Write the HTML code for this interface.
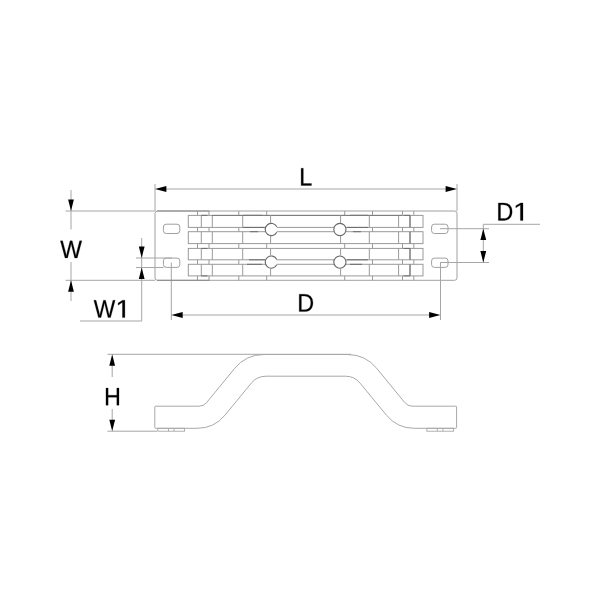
<!DOCTYPE html>
<html><head><meta charset="utf-8"><style>
html,body{margin:0;padding:0;background:#fff;width:600px;height:600px;overflow:hidden}
svg{position:absolute;left:0;top:0}
text{font-family:"Liberation Sans",sans-serif;fill:#000}
</style></head><body>
<svg width="600" height="600" viewBox="0 0 600 600">
<rect width="600" height="600" fill="#fff"/>
<line x1="155" y1="184" x2="155" y2="211" stroke="#a6a6a6" stroke-width="1.0"/>
<line x1="457" y1="184" x2="457" y2="211" stroke="#a6a6a6" stroke-width="1.0"/>
<line x1="160" y1="189" x2="452" y2="189" stroke="#a6a6a6" stroke-width="1.0"/>
<polygon points="155,189 166.4,186.1 166.4,191.9" fill="#000"/>
<polygon points="457,189 445.6,186.1 445.6,191.9" fill="#000"/>
<rect x="155" y="211" width="302" height="69.3" rx="2.5" fill="none" stroke="#a0a0a0" stroke-width="1.0"/>
<rect x="163.4" y="224.2" width="16.4" height="9.3" rx="2.8" fill="none" stroke="#a0a0a0" stroke-width="1.0"/>
<rect x="163.4" y="258.1" width="16.4" height="9.3" rx="2.8" fill="none" stroke="#a0a0a0" stroke-width="1.0"/>
<rect x="431.6" y="224.2" width="16.4" height="9.3" rx="2.8" fill="none" stroke="#a0a0a0" stroke-width="1.0"/>
<rect x="431.6" y="258.1" width="16.4" height="9.3" rx="2.8" fill="none" stroke="#a0a0a0" stroke-width="1.0"/>
<line x1="65.5" y1="211" x2="155" y2="211" stroke="#a6a6a6" stroke-width="1.0"/>
<line x1="65.5" y1="280.3" x2="155" y2="280.3" stroke="#a6a6a6" stroke-width="1.0"/>
<line x1="71" y1="190" x2="71" y2="229.5" stroke="#a6a6a6" stroke-width="1.0"/>
<line x1="71" y1="262" x2="71" y2="301" stroke="#a6a6a6" stroke-width="1.0"/>
<polygon points="71,211 68.1,199.6 73.9,199.6" fill="#000"/>
<polygon points="71,280.3 68.1,291.7 73.9,291.7" fill="#000"/>
<line x1="136" y1="258" x2="172" y2="258" stroke="#a6a6a6" stroke-width="1.0"/>
<line x1="136" y1="267.5" x2="163.5" y2="267.5" stroke="#a6a6a6" stroke-width="1.0"/>
<line x1="141.7" y1="238" x2="141.7" y2="321" stroke="#a6a6a6" stroke-width="1.0"/>
<line x1="80" y1="321" x2="141.7" y2="321" stroke="#a6a6a6" stroke-width="1.0"/>
<polygon points="141.7,258 138.79999999999998,246.6 144.6,246.6" fill="#000"/>
<polygon points="141.7,267.5 138.79999999999998,278.9 144.6,278.9" fill="#000"/>
<line x1="171.3" y1="262.5" x2="171.3" y2="320" stroke="#a6a6a6" stroke-width="1.0"/>
<line x1="440.5" y1="262.5" x2="440.5" y2="320" stroke="#a6a6a6" stroke-width="1.0"/>
<line x1="176" y1="315" x2="436" y2="315" stroke="#a6a6a6" stroke-width="1.0"/>
<polygon points="171.3,315 182.70000000000002,312.1 182.70000000000002,317.9" fill="#000"/>
<polygon points="440.5,315 429.1,312.1 429.1,317.9" fill="#000"/>
<line x1="440" y1="228.7" x2="489" y2="228.7" stroke="#a6a6a6" stroke-width="1.0"/>
<line x1="440" y1="262.5" x2="489" y2="262.5" stroke="#a6a6a6" stroke-width="1.0"/>
<line x1="483.3" y1="224.3" x2="483.3" y2="262.5" stroke="#a6a6a6" stroke-width="1.0"/>
<line x1="483.3" y1="224.3" x2="540" y2="224.3" stroke="#a6a6a6" stroke-width="1.0"/>
<polygon points="483.3,228.7 480.40000000000003,240.1 486.2,240.1" fill="#000"/>
<polygon points="483.3,262.5 480.40000000000003,251.1 486.2,251.1" fill="#000"/>
<rect x="188.3" y="215.4" width="234.7" height="12.0" rx="0" fill="none" stroke="#9a9a9a" stroke-width="1.0"/>
<rect x="188.3" y="231.7" width="234.7" height="11.900000000000006" rx="0" fill="none" stroke="#9a9a9a" stroke-width="1.0"/>
<rect x="188.3" y="248.4" width="234.7" height="11.400000000000006" rx="0" fill="none" stroke="#9a9a9a" stroke-width="1.0"/>
<rect x="188.3" y="264.3" width="234.7" height="11.599999999999966" rx="0" fill="none" stroke="#9a9a9a" stroke-width="1.0"/>
<line x1="201.3" y1="215.4" x2="201.3" y2="227.4" stroke="#9a9a9a" stroke-width="1.0"/>
<line x1="201.3" y1="231.7" x2="201.3" y2="243.6" stroke="#9a9a9a" stroke-width="1.0"/>
<line x1="201.3" y1="248.4" x2="201.3" y2="259.8" stroke="#9a9a9a" stroke-width="1.0"/>
<line x1="201.3" y1="264.3" x2="201.3" y2="275.9" stroke="#9a9a9a" stroke-width="1.0"/>
<line x1="212.3" y1="215.4" x2="212.3" y2="227.4" stroke="#9a9a9a" stroke-width="1.0"/>
<line x1="212.3" y1="231.7" x2="212.3" y2="243.6" stroke="#9a9a9a" stroke-width="1.0"/>
<line x1="212.3" y1="248.4" x2="212.3" y2="259.8" stroke="#9a9a9a" stroke-width="1.0"/>
<line x1="212.3" y1="264.3" x2="212.3" y2="275.9" stroke="#9a9a9a" stroke-width="1.0"/>
<line x1="242.7" y1="215.4" x2="242.7" y2="227.4" stroke="#9a9a9a" stroke-width="1.0"/>
<line x1="242.7" y1="231.7" x2="242.7" y2="243.6" stroke="#9a9a9a" stroke-width="1.0"/>
<line x1="242.7" y1="248.4" x2="242.7" y2="259.8" stroke="#9a9a9a" stroke-width="1.0"/>
<line x1="242.7" y1="264.3" x2="242.7" y2="275.9" stroke="#9a9a9a" stroke-width="1.0"/>
<line x1="369.3" y1="215.4" x2="369.3" y2="227.4" stroke="#9a9a9a" stroke-width="1.0"/>
<line x1="369.3" y1="231.7" x2="369.3" y2="243.6" stroke="#9a9a9a" stroke-width="1.0"/>
<line x1="369.3" y1="248.4" x2="369.3" y2="259.8" stroke="#9a9a9a" stroke-width="1.0"/>
<line x1="369.3" y1="264.3" x2="369.3" y2="275.9" stroke="#9a9a9a" stroke-width="1.0"/>
<line x1="398.6" y1="215.4" x2="398.6" y2="227.4" stroke="#9a9a9a" stroke-width="1.0"/>
<line x1="398.6" y1="231.7" x2="398.6" y2="243.6" stroke="#9a9a9a" stroke-width="1.0"/>
<line x1="398.6" y1="248.4" x2="398.6" y2="259.8" stroke="#9a9a9a" stroke-width="1.0"/>
<line x1="398.6" y1="264.3" x2="398.6" y2="275.9" stroke="#9a9a9a" stroke-width="1.0"/>
<line x1="410.0" y1="215.4" x2="410.0" y2="227.4" stroke="#9a9a9a" stroke-width="1.0"/>
<line x1="410.0" y1="231.7" x2="410.0" y2="243.6" stroke="#9a9a9a" stroke-width="1.0"/>
<line x1="410.0" y1="248.4" x2="410.0" y2="259.8" stroke="#9a9a9a" stroke-width="1.0"/>
<line x1="410.0" y1="264.3" x2="410.0" y2="275.9" stroke="#9a9a9a" stroke-width="1.0"/>
<line x1="197.5" y1="211" x2="197.5" y2="215.4" stroke="#9a9a9a" stroke-width="1.0"/>
<line x1="197.5" y1="227.4" x2="197.5" y2="231.7" stroke="#9a9a9a" stroke-width="1.0"/>
<line x1="197.5" y1="243.6" x2="197.5" y2="248.4" stroke="#9a9a9a" stroke-width="1.0"/>
<line x1="197.5" y1="259.8" x2="197.5" y2="264.3" stroke="#9a9a9a" stroke-width="1.0"/>
<line x1="197.5" y1="275.9" x2="197.5" y2="280.3" stroke="#9a9a9a" stroke-width="1.0"/>
<line x1="209" y1="211" x2="209" y2="215.4" stroke="#9a9a9a" stroke-width="1.0"/>
<line x1="209" y1="227.4" x2="209" y2="231.7" stroke="#9a9a9a" stroke-width="1.0"/>
<line x1="209" y1="243.6" x2="209" y2="248.4" stroke="#9a9a9a" stroke-width="1.0"/>
<line x1="209" y1="259.8" x2="209" y2="264.3" stroke="#9a9a9a" stroke-width="1.0"/>
<line x1="209" y1="275.9" x2="209" y2="280.3" stroke="#9a9a9a" stroke-width="1.0"/>
<line x1="238.8" y1="211" x2="238.8" y2="215.4" stroke="#9a9a9a" stroke-width="1.0"/>
<line x1="238.8" y1="227.4" x2="238.8" y2="231.7" stroke="#9a9a9a" stroke-width="1.0"/>
<line x1="238.8" y1="243.6" x2="238.8" y2="248.4" stroke="#9a9a9a" stroke-width="1.0"/>
<line x1="238.8" y1="259.8" x2="238.8" y2="264.3" stroke="#9a9a9a" stroke-width="1.0"/>
<line x1="238.8" y1="275.9" x2="238.8" y2="280.3" stroke="#9a9a9a" stroke-width="1.0"/>
<line x1="266.7" y1="211" x2="266.7" y2="215.4" stroke="#9a9a9a" stroke-width="1.0"/>
<line x1="266.7" y1="227.4" x2="266.7" y2="231.7" stroke="#9a9a9a" stroke-width="1.0"/>
<line x1="266.7" y1="243.6" x2="266.7" y2="248.4" stroke="#9a9a9a" stroke-width="1.0"/>
<line x1="266.7" y1="259.8" x2="266.7" y2="264.3" stroke="#9a9a9a" stroke-width="1.0"/>
<line x1="266.7" y1="275.9" x2="266.7" y2="280.3" stroke="#9a9a9a" stroke-width="1.0"/>
<line x1="344.7" y1="211" x2="344.7" y2="215.4" stroke="#9a9a9a" stroke-width="1.0"/>
<line x1="344.7" y1="227.4" x2="344.7" y2="231.7" stroke="#9a9a9a" stroke-width="1.0"/>
<line x1="344.7" y1="243.6" x2="344.7" y2="248.4" stroke="#9a9a9a" stroke-width="1.0"/>
<line x1="344.7" y1="259.8" x2="344.7" y2="264.3" stroke="#9a9a9a" stroke-width="1.0"/>
<line x1="344.7" y1="275.9" x2="344.7" y2="280.3" stroke="#9a9a9a" stroke-width="1.0"/>
<line x1="372.5" y1="211" x2="372.5" y2="215.4" stroke="#9a9a9a" stroke-width="1.0"/>
<line x1="372.5" y1="227.4" x2="372.5" y2="231.7" stroke="#9a9a9a" stroke-width="1.0"/>
<line x1="372.5" y1="243.6" x2="372.5" y2="248.4" stroke="#9a9a9a" stroke-width="1.0"/>
<line x1="372.5" y1="259.8" x2="372.5" y2="264.3" stroke="#9a9a9a" stroke-width="1.0"/>
<line x1="372.5" y1="275.9" x2="372.5" y2="280.3" stroke="#9a9a9a" stroke-width="1.0"/>
<line x1="402.5" y1="211" x2="402.5" y2="215.4" stroke="#9a9a9a" stroke-width="1.0"/>
<line x1="402.5" y1="227.4" x2="402.5" y2="231.7" stroke="#9a9a9a" stroke-width="1.0"/>
<line x1="402.5" y1="243.6" x2="402.5" y2="248.4" stroke="#9a9a9a" stroke-width="1.0"/>
<line x1="402.5" y1="259.8" x2="402.5" y2="264.3" stroke="#9a9a9a" stroke-width="1.0"/>
<line x1="402.5" y1="275.9" x2="402.5" y2="280.3" stroke="#9a9a9a" stroke-width="1.0"/>
<line x1="413.8" y1="211" x2="413.8" y2="215.4" stroke="#9a9a9a" stroke-width="1.0"/>
<line x1="413.8" y1="227.4" x2="413.8" y2="231.7" stroke="#9a9a9a" stroke-width="1.0"/>
<line x1="413.8" y1="243.6" x2="413.8" y2="248.4" stroke="#9a9a9a" stroke-width="1.0"/>
<line x1="413.8" y1="259.8" x2="413.8" y2="264.3" stroke="#9a9a9a" stroke-width="1.0"/>
<line x1="413.8" y1="275.9" x2="413.8" y2="280.3" stroke="#9a9a9a" stroke-width="1.0"/>
<line x1="157" y1="211" x2="209.3" y2="211" stroke="#8a8a8a" stroke-width="1.0"/>
<line x1="157" y1="280.3" x2="209.3" y2="280.3" stroke="#8a8a8a" stroke-width="1.0"/>
<path d="M276.77 226.80 A6.1 6.1 0 1 0 276.77 232.20" fill="#fff" stroke="#666" stroke-width="1.1"/>
<circle cx="339.9" cy="229.5" r="6.1" fill="#fff" stroke="#666" stroke-width="1.1"/>
<path d="M276.77 259.40 A6.1 6.1 0 1 0 276.77 264.80" fill="#fff" stroke="#666" stroke-width="1.1"/>
<circle cx="339.9" cy="262.1" r="6.1" fill="#fff" stroke="#666" stroke-width="1.1"/>
<line x1="243" y1="227.4" x2="264.5" y2="227.4" stroke="#6a6a6a" stroke-width="1.0"/>
<line x1="250" y1="231.7" x2="258" y2="231.7" stroke="#6a6a6a" stroke-width="1.0"/>
<line x1="249" y1="259.8" x2="265" y2="259.8" stroke="#6a6a6a" stroke-width="1.0"/>
<line x1="247" y1="264.3" x2="262" y2="264.3" stroke="#6a6a6a" stroke-width="1.0"/>
<line x1="347" y1="227.4" x2="368" y2="227.4" stroke="#6a6a6a" stroke-width="1.0"/>
<line x1="353" y1="231.7" x2="361" y2="231.7" stroke="#6a6a6a" stroke-width="1.0"/>
<line x1="347" y1="259.8" x2="368" y2="259.8" stroke="#6a6a6a" stroke-width="1.0"/>
<line x1="350" y1="264.3" x2="362" y2="264.3" stroke="#6a6a6a" stroke-width="1.0"/>
<line x1="201.3" y1="215.3" x2="207.5" y2="215.3" stroke="#6a6a6a" stroke-width="1.0"/>
<line x1="201.3" y1="248.4" x2="207.5" y2="248.4" stroke="#6a6a6a" stroke-width="1.0"/>
<line x1="201.3" y1="275.9" x2="207.5" y2="275.9" stroke="#6a6a6a" stroke-width="1.0"/>
<line x1="403.5" y1="215.3" x2="410" y2="215.3" stroke="#6a6a6a" stroke-width="1.0"/>
<line x1="403.5" y1="248.4" x2="410" y2="248.4" stroke="#6a6a6a" stroke-width="1.0"/>
<line x1="403.5" y1="275.9" x2="410" y2="275.9" stroke="#6a6a6a" stroke-width="1.0"/>
<line x1="243" y1="215.3" x2="262" y2="215.3" stroke="#6a6a6a" stroke-width="1.0"/>
<line x1="350" y1="215.3" x2="368" y2="215.3" stroke="#6a6a6a" stroke-width="1.0"/>
<line x1="410.0" y1="215.4" x2="410.0" y2="227.4" stroke="#6a6a6a" stroke-width="1.0"/>
<line x1="410.0" y1="231.7" x2="410.0" y2="243.6" stroke="#6a6a6a" stroke-width="1.0"/>
<line x1="410.0" y1="248.4" x2="410.0" y2="259.8" stroke="#6a6a6a" stroke-width="1.0"/>
<line x1="410.0" y1="264.3" x2="410.0" y2="275.9" stroke="#6a6a6a" stroke-width="1.0"/>
<line x1="212" y1="215.4" x2="402" y2="215.4" stroke="#7a7a7a" stroke-width="1.0"/>
<line x1="270.6" y1="215.3" x2="270.6" y2="223.2" stroke="#9a9a9a" stroke-width="1.0"/>
<line x1="270.6" y1="235.8" x2="270.6" y2="243.6" stroke="#9a9a9a" stroke-width="1.0"/>
<line x1="270.6" y1="248.4" x2="270.6" y2="255.7" stroke="#9a9a9a" stroke-width="1.0"/>
<line x1="270.6" y1="268.3" x2="270.6" y2="275.9" stroke="#9a9a9a" stroke-width="1.0"/>
<line x1="340.6" y1="215.3" x2="340.6" y2="223.2" stroke="#9a9a9a" stroke-width="1.0"/>
<line x1="340.6" y1="235.8" x2="340.6" y2="243.6" stroke="#9a9a9a" stroke-width="1.0"/>
<line x1="340.6" y1="248.4" x2="340.6" y2="255.7" stroke="#9a9a9a" stroke-width="1.0"/>
<line x1="340.6" y1="268.3" x2="340.6" y2="275.9" stroke="#9a9a9a" stroke-width="1.0"/>
<line x1="107.5" y1="354.3" x2="351" y2="354.3" stroke="#a6a6a6" stroke-width="1.0"/>
<line x1="107.5" y1="431.2" x2="157" y2="431.2" stroke="#a6a6a6" stroke-width="1.0"/>
<line x1="112.2" y1="360" x2="112.2" y2="377" stroke="#a6a6a6" stroke-width="1.0"/>
<line x1="112.2" y1="409" x2="112.2" y2="425" stroke="#a6a6a6" stroke-width="1.0"/>
<polygon points="112.2,354.3 109.3,365.7 115.10000000000001,365.7" fill="#000"/>
<polygon points="112.2,431.2 109.3,419.8 115.10000000000001,419.8" fill="#000"/>
<path d="M154.80 407.00 A0.80 0.80 0 0 1 155.60 406.20 L199.00 406.20 A9.92 9.92 0 0 0 206.68 402.56 L234.60 368.43 A37.98 37.98 0 0 1 264.00 354.50 L347.40 354.50 A37.98 37.98 0 0 1 376.80 368.43 L404.72 402.56 A9.92 9.92 0 0 0 412.40 406.20 L455.80 406.20 A0.80 0.80 0 0 1 456.60 407.00 L456.60 427.50 A0.80 0.80 0 0 1 455.80 428.30 L414.20 428.30 A35.97 35.97 0 0 1 386.41 415.16 L360.11 383.15 A19.04 19.04 0 0 0 345.40 376.20 L266.00 376.20 A19.04 19.04 0 0 0 251.29 383.15 L224.99 415.16 A35.97 35.97 0 0 1 197.20 428.30 L155.60 428.30 A0.80 0.80 0 0 1 154.80 427.50 Z" fill="none" stroke="#a8a8a8" stroke-width="1.0"/>
<rect x="157.8" y="428.3" width="26.8" height="2.9" rx="0" fill="none" stroke="#a8a8a8" stroke-width="0.9"/>
<rect x="426.8" y="428.3" width="26.8" height="2.9" rx="0" fill="none" stroke="#a8a8a8" stroke-width="0.9"/>
<line x1="168.5" y1="428.3" x2="168.5" y2="431.2" stroke="#a8a8a8" stroke-width="0.9"/>
<line x1="174.0" y1="428.3" x2="174.0" y2="431.2" stroke="#a8a8a8" stroke-width="0.9"/>
<line x1="437.3" y1="428.3" x2="437.3" y2="431.2" stroke="#a8a8a8" stroke-width="0.9"/>
<line x1="442.9" y1="428.3" x2="442.9" y2="431.2" stroke="#a8a8a8" stroke-width="0.9"/>
<path transform="matrix(0.011473 0 0 -0.012250 299.193 185.480)" d="M168 0V1409H359V156H1071V0Z" fill="#000" stroke="#000" stroke-width="21.1" stroke-linejoin="miter"/>
<path transform="matrix(0.011344 0 0 -0.012321 297.314 311.580)" d="M1381 719Q1381 501 1296.0 337.5Q1211 174 1055.0 87.0Q899 0 695 0H168V1409H634Q992 1409 1186.5 1229.5Q1381 1050 1381 719ZM1189 719Q1189 981 1045.5 1118.5Q902 1256 630 1256H359V153H673Q828 153 945.5 221.0Q1063 289 1126.0 417.0Q1189 545 1189 719Z" fill="#000" stroke="#000" stroke-width="21.1" stroke-linejoin="miter"/>
<path transform="matrix(0.011221 0 0 -0.012072 60.269 257.880)" d="M1511 0H1283L1039 895Q1015 979 969 1196Q943 1080 925.0 1002.0Q907 924 652 0H424L9 1409H208L461 514Q506 346 544 168Q568 278 599.5 408.0Q631 538 877 1409H1060L1305 532Q1361 317 1393 168L1402 203Q1429 318 1446.0 390.5Q1463 463 1727 1409H1926Z" fill="#000" stroke="#000" stroke-width="21.5" stroke-linejoin="miter"/>
<path transform="matrix(0.011142 0 0 -0.012321 93.720 317.580)" d="M1511 0H1283L1039 895Q1015 979 969 1196Q943 1080 925.0 1002.0Q907 924 652 0H424L9 1409H208L461 514Q506 346 544 168Q568 278 599.5 408.0Q631 538 877 1409H1060L1305 532Q1361 317 1393 168L1402 203Q1429 318 1446.0 390.5Q1463 463 1727 1409H1926Z" fill="#000" stroke="#000" stroke-width="21.3" stroke-linejoin="miter"/>
<path transform="matrix(0.013547 0 0 -0.012321 115.451 317.580)" d="M515 0V1237L197 1010V1180L530 1409H696V0Z" fill="#000" stroke="#000" stroke-width="19.3" stroke-linejoin="miter"/>
<path transform="matrix(0.011426 0 0 -0.012392 496.400 220.380)" d="M1381 719Q1381 501 1296.0 337.5Q1211 174 1055.0 87.0Q899 0 695 0H168V1409H634Q992 1409 1186.5 1229.5Q1381 1050 1381 719ZM1189 719Q1189 981 1045.5 1118.5Q902 1256 630 1256H359V153H673Q828 153 945.5 221.0Q1063 289 1126.0 417.0Q1189 545 1189 719Z" fill="#000" stroke="#000" stroke-width="21.0" stroke-linejoin="miter"/>
<path transform="matrix(0.014349 0 0 -0.012392 512.993 220.380)" d="M515 0V1237L197 1010V1180L530 1409H696V0Z" fill="#000" stroke="#000" stroke-width="18.7" stroke-linejoin="miter"/>
<path transform="matrix(0.011372 0 0 -0.012179 104.059 405.180)" d="M1121 0V653H359V0H168V1409H359V813H1121V1409H1312V0Z" fill="#000" stroke="#000" stroke-width="21.2" stroke-linejoin="miter"/>
</svg>
</body></html>
